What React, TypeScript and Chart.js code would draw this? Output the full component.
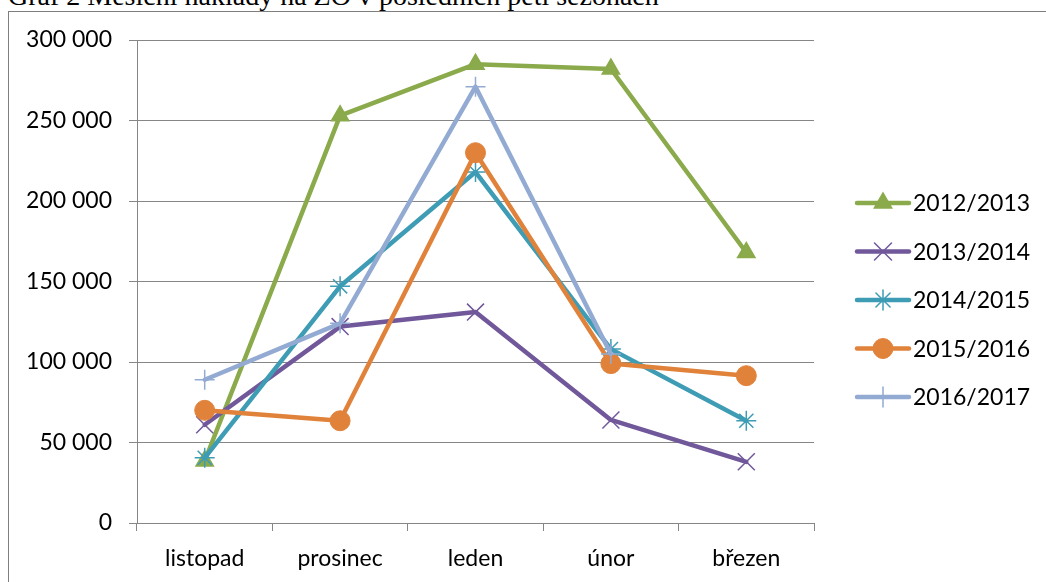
import React, { useEffect, useRef } from "react";
import { Chart, registerables } from "chart.js";
import { drawPoint } from "chart.js/helpers";

Chart.register(...registerables);

const titleText = "Graf 2 Měsíční náklady na ZO v posledních pěti sezónách";
const categories = ["listopad", "prosinec", "leden", "únor", "březen"];
const seriesNames = ["2012/2013", "2013/2014", "2014/2015", "2015/2016", "2016/2017"];
const s2012_2013 = [38500, 253000, 285000, 282000, 168000];
const s2013_2014 = [61000, 122000, 131000, 64000, 38000];
const s2014_2015 = [40500, 147000, 218000, 108000, 63500];
const s2015_2016 = [70000, 63500, 230000, 99000, 91500];
const s2016_2017 = [89000, 124000, 271000, 105000, null];
const yMin = 0;
const yMax = 300000;
const yStep = 50000;

const seriesValues = [s2012_2013, s2013_2014, s2014_2015, s2015_2016, s2016_2017];
const seriesColors = ["#8AAA4B", "#71589A", "#3E9CB5", "#E1823B", "#93ABD3"];
const seriesPointStyles = ["triangle", "crossRot", "star", "circle", "cross"];
const seriesPointRadius = [9.5, 12, 10, 10, 10];
const seriesPointBorder = [2, 1.5, 1.5, 1, 1.5];

const FONT = "Lato";
const FONT_SIZE = 23;
const GRID = "#868686";

const formatTick = (v: number) =>
  String(v).replace(/\B(?=(\d{3})+(?!\d))/g, " ");

const legendPlugin = {
  id: "excelLegend",
  afterDraw(chart: any) {
    const ctx = chart.ctx as CanvasRenderingContext2D;
    const top = 203;
    const step = 48.5;
    chart.data.datasets.forEach((ds: any, i: number) => {
      const y = top + i * step;
      ctx.save();
      ctx.strokeStyle = ds.borderColor;
      ctx.lineWidth = ds.borderWidth;
      ctx.lineCap = "round";
      ctx.beginPath();
      ctx.moveTo(857, y);
      ctx.lineTo(909, y);
      ctx.stroke();
      ctx.fillStyle = ds.pointBackgroundColor;
      ctx.strokeStyle = ds.pointBorderColor;
      ctx.lineWidth = ds.pointBorderWidth;
      drawPoint(
        ctx,
        {
          pointStyle: ds.pointStyle,
          rotation: 0,
          radius: ds.pointRadius,
          borderWidth: ds.pointBorderWidth,
        } as any,
        883,
        y
      );
      ctx.fillStyle = "#000";
      ctx.font = `${FONT_SIZE}px ${FONT}`;
      ctx.textBaseline = "middle";
      ctx.textAlign = "left";
      ctx.fillText(ds.label, 913, y + 1);
      ctx.restore();
    });
  },
};

export default function App() {
  const canvasRef = useRef<HTMLCanvasElement | null>(null);

  useEffect(() => {
    let chart: Chart | null = null;
    let cancelled = false;
    const make = () => {
      if (cancelled || !canvasRef.current) return;
      chart = new Chart(canvasRef.current, {
        type: "line",
        data: {
          labels: categories,
          datasets: seriesNames.map((name, i) => ({
            label: name,
            data: seriesValues[i] as any,
            borderColor: seriesColors[i],
            backgroundColor: seriesColors[i],
            borderWidth: 4.5,
            borderCapStyle: "round",
            borderJoinStyle: "round",
            pointStyle: seriesPointStyles[i] as any,
            pointRadius: seriesPointRadius[i],
            pointBorderWidth: seriesPointBorder[i],
            pointBackgroundColor: seriesColors[i],
            pointBorderColor: seriesColors[i],
            fill: false,
            tension: 0,
            spanGaps: false,
            order: seriesNames.length - i,
          })),
        },
        options: {
          responsive: false,
          animation: false,
          events: [],
          layout: { padding: { left: 0, top: 40, right: 232, bottom: 0 } },
          plugins: {
            legend: { display: false },
            title: { display: false },
            tooltip: { enabled: false },
          },
          scales: {
            x: {
              type: "category",
              offset: true,
              afterFit: (s: any) => {
                s.height = 59;
              },
              grid: {
                offset: true,
                drawOnChartArea: false,
                drawTicks: true,
                tickLength: 8,
                color: GRID,
                lineWidth: 1,
              },
              border: { display: true, color: GRID, width: 1 },
              ticks: {
                color: "#000",
                font: { family: FONT, size: FONT_SIZE },
                padding: 14,
                maxRotation: 0,
                autoSkip: false,
              },
            },
            y: {
              min: yMin,
              max: yMax,
              afterFit: (s: any) => {
                s.width = 137;
              },
              grid: {
                color: GRID,
                lineWidth: 1,
                drawTicks: true,
                tickLength: 8,
              },
              border: { display: true, color: GRID, width: 1 },
              ticks: {
                stepSize: yStep,
                color: "#000",
                font: { family: FONT, size: FONT_SIZE },
                padding: 17,
                callback: (v: any) => formatTick(Number(v)),
              },
            },
          },
        },
        plugins: [legendPlugin],
      });
    };
    const fontsReady = (document as any).fonts
      ? Promise.all([
          (document as any).fonts.load(`${FONT_SIZE}px ${FONT}`),
          (document as any).fonts.load(`28px "Liberation Serif"`),
        ]).catch(() => null)
      : Promise.resolve(null);
    fontsReady.then(make);
    return () => {
      cancelled = true;
      if (chart) chart.destroy();
    };
  }, []);

  return (
    <div
      style={{
        position: "absolute",
        left: 0,
        top: 0,
        width: 1046,
        height: 582,
        overflow: "hidden",
        background: "#fff",
      }}
    >
      <div
        style={{
          position: "absolute",
          left: 8,
          top: -18,
          fontFamily: '"Liberation Serif", "Times New Roman", serif',
          fontSize: 28,
          lineHeight: "28px",
          whiteSpace: "nowrap",
          color: "#000",
        }}
      >
        {titleText}
      </div>
      <div
        style={{
          position: "absolute",
          left: 8,
          top: 11,
          width: 1200,
          height: 800,
          border: "1px solid #7f7f7f",
          boxSizing: "border-box",
        }}
      />
      <canvas
        ref={canvasRef}
        width={1046}
        height={582}
        style={{ position: "absolute", left: 0, top: 0, width: 1046, height: 582 }}
      />
    </div>
  );
}
